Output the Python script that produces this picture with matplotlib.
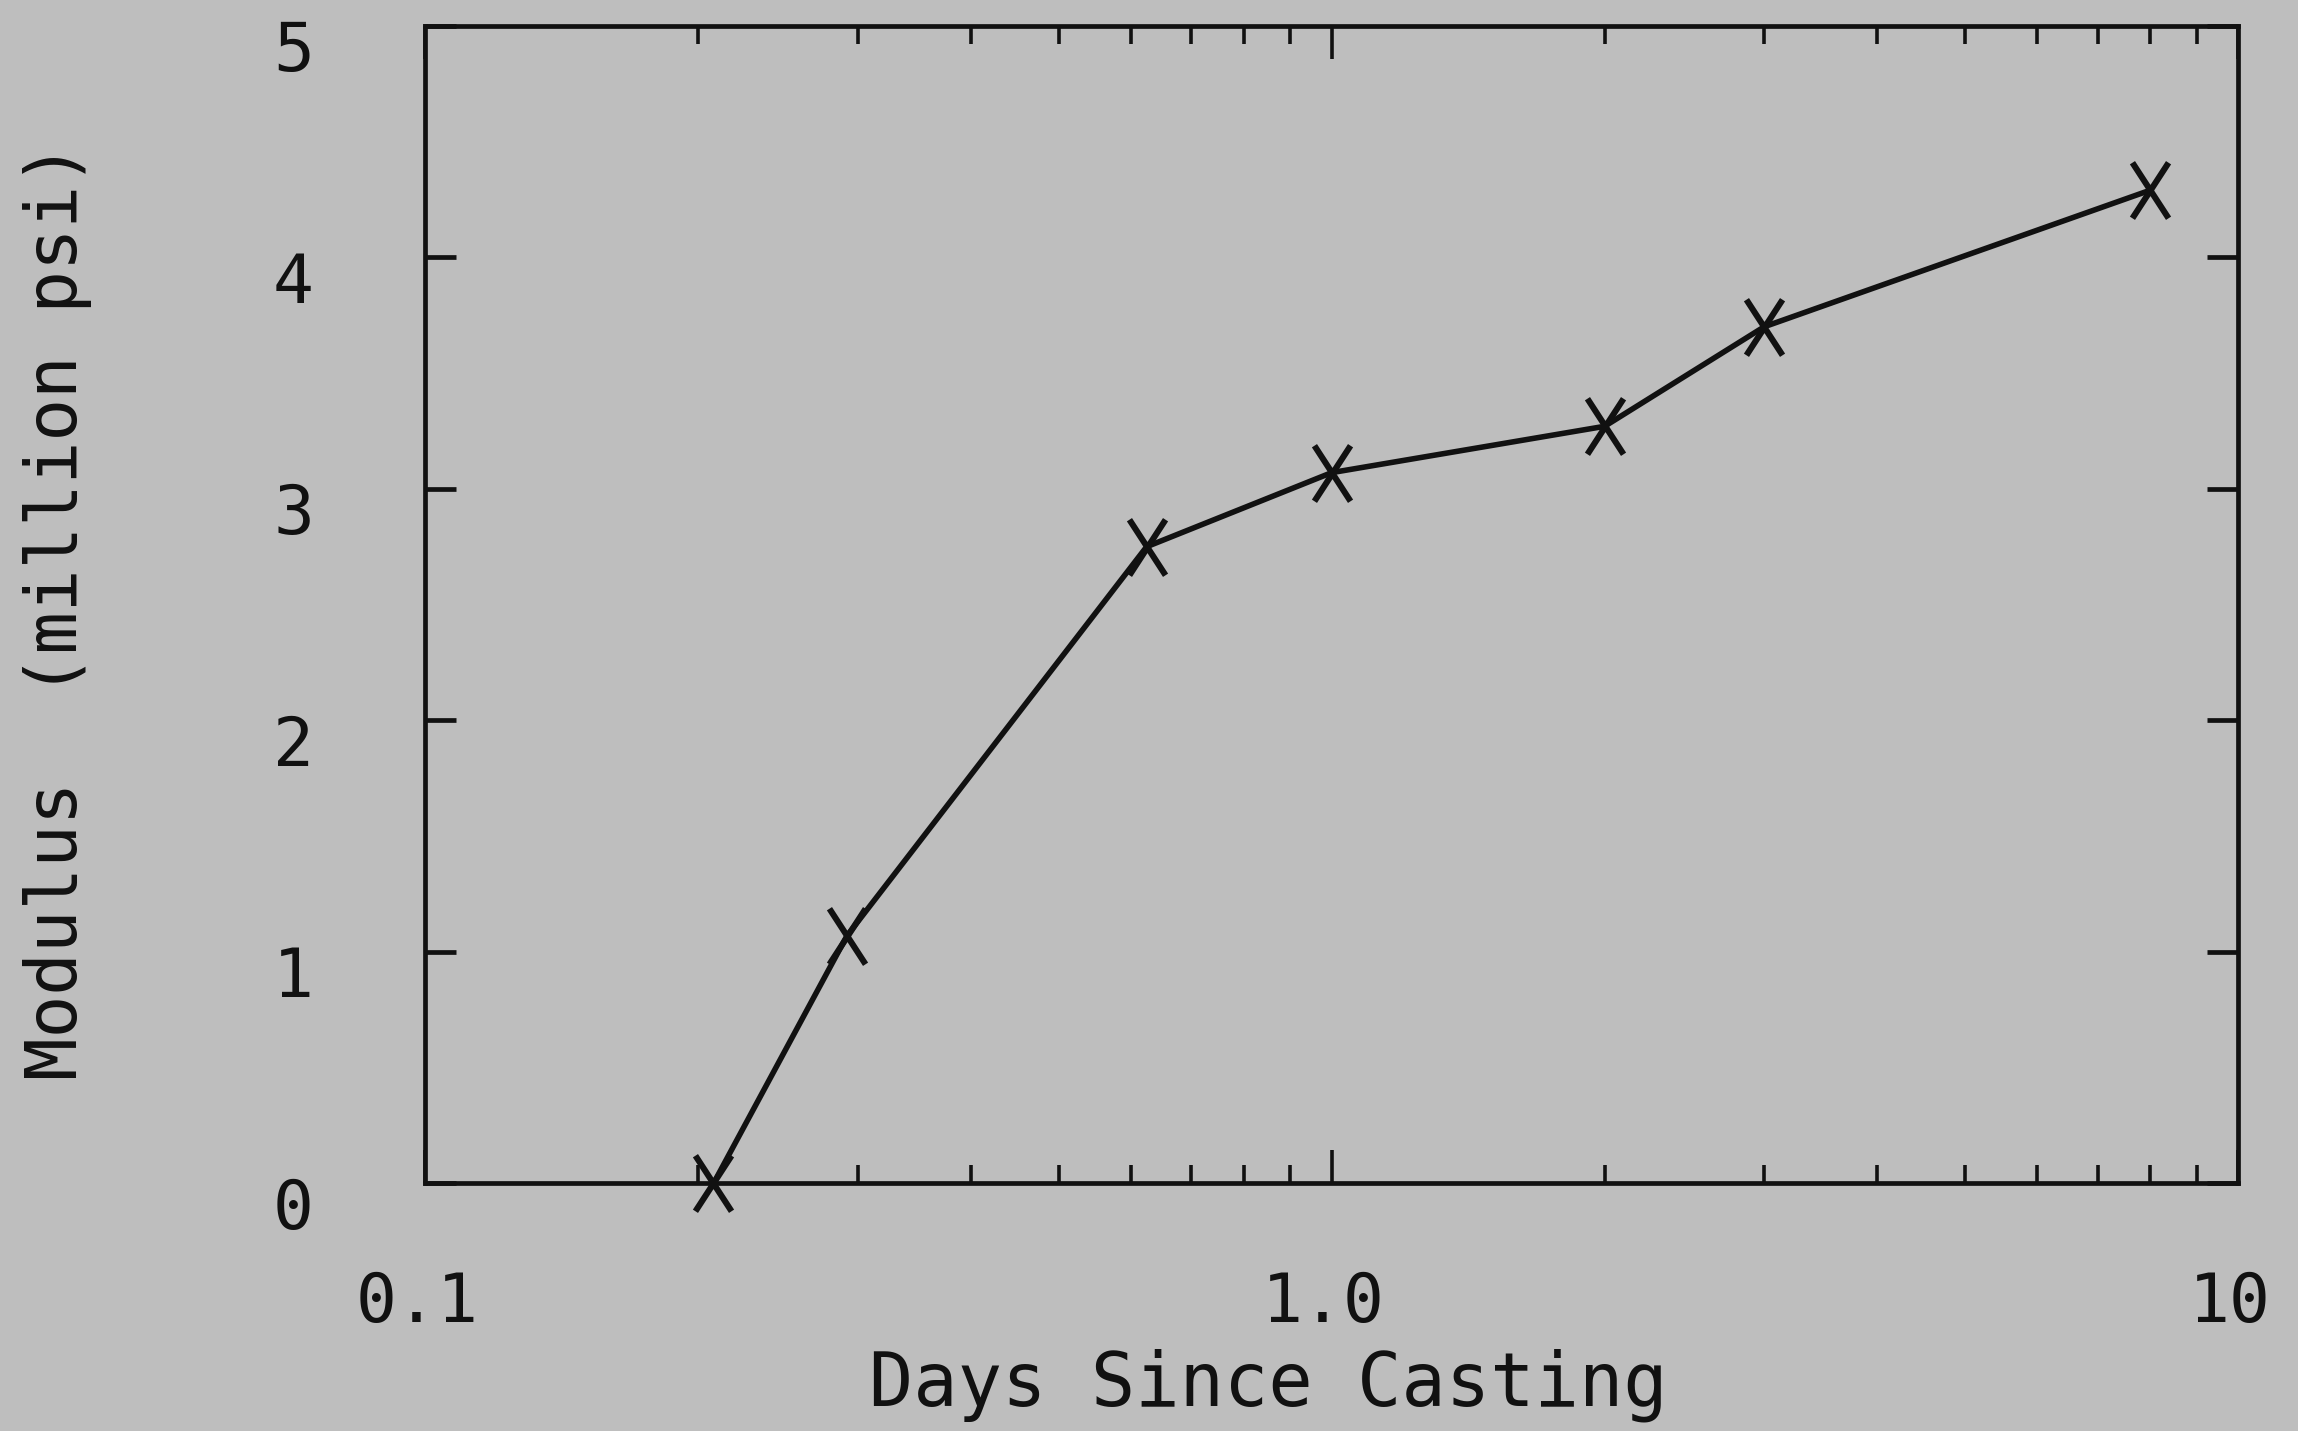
import matplotlib
matplotlib.use("Agg")
import matplotlib.pyplot as plt
import matplotlib.ticker as mticker
import matplotlib.transforms as mtransforms
from matplotlib.path import Path

# Elastic modulus development of the concrete after casting
days = [0.208, 0.292, 0.625, 1.0, 2.0, 3.0, 8.0]
modulus = [0.0, 1.07, 2.75, 3.07, 3.27, 3.70, 4.29]

x_ticks = [0.1, 1.0, 10.0]
x_tick_labels = ["0.1", "1.0", "10"]
y_ticks = [0, 1, 2, 3, 4, 5]
y_tick_labels = ["0", "1", "2", "3", "4", "5"]

BG = "#bebebe"
INK = "#111111"
FONT = "DejaVu Sans Mono"
FS = 49

fig = plt.figure(figsize=(22.98, 14.31), dpi=100, facecolor=BG)
ax = fig.add_axes([0.185, 0.173, 0.789, 0.809], facecolor=BG)

# tall cross marker, like a plotter "X"
cross = Path([(-0.65, -1.0), (0.65, 1.0), (-0.65, 1.0), (0.65, -1.0)],
             [Path.MOVETO, Path.LINETO, Path.MOVETO, Path.LINETO])

ax.plot(days, modulus, color=INK, lw=4.0, marker=cross, markersize=40,
        markeredgewidth=4.4, markeredgecolor=INK, clip_on=False, zorder=3)

ax.set_xscale("log")
ax.set_xlim(0.1, 10)
ax.set_ylim(0, 5)

ax.xaxis.set_major_locator(mticker.FixedLocator(x_ticks))
ax.xaxis.set_major_formatter(mticker.FixedFormatter(x_tick_labels))
ax.xaxis.set_minor_locator(mticker.LogLocator(base=10, subs=range(2, 10)))
ax.xaxis.set_minor_formatter(mticker.NullFormatter())
ax.yaxis.set_major_locator(mticker.FixedLocator(y_ticks))
ax.yaxis.set_major_formatter(mticker.FixedFormatter(y_tick_labels))

for s in ax.spines.values():
    s.set_linewidth(3.4)
    s.set_color(INK)

ax.tick_params(axis="x", which="major", direction="in", top=True, bottom=True,
               length=24, width=2.6, color=INK, pad=62, labelsize=FS,
               labelcolor=INK)
ax.tick_params(axis="x", which="minor", direction="in", top=True, bottom=True,
               length=13, width=2.6, color=INK)
ax.tick_params(axis="y", which="major", direction="in", left=True, right=True,
               length=22, width=3.4, color=INK, pad=80, labelsize=FS,
               labelcolor=INK)

for lab in ax.get_xticklabels() + ax.get_yticklabels():
    lab.set_fontfamily(FONT)

# small offsets of the tick labels
dx = mtransforms.ScaledTranslation(-6 / 72, 0, fig.dpi_scale_trans)
for lab in ax.get_xticklabels():
    lab.set_transform(lab.get_transform() + dx)
dy = mtransforms.ScaledTranslation(0, -14 / 72, fig.dpi_scale_trans)
for lab in ax.get_yticklabels():
    lab.set_transform(lab.get_transform() + dy)

fig.text(0.552, 0.032, "Days Since Casting", ha="center", va="center",
         fontsize=53, family=FONT, color=INK)
fig.text(0.025, 0.573, "Modulus  (million psi)", ha="center", va="center",
         rotation=90, fontsize=51, family=FONT, color=INK)

fig.savefig("out.png", dpi=100, facecolor=BG)
